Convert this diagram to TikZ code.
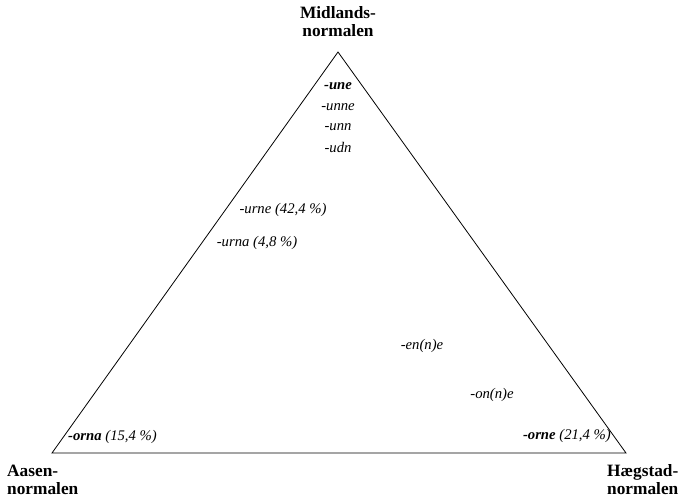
\documentclass[tikz,border=0pt]{standalone}
\usepackage{fontspec}
\setmainfont{Liberation Serif}
\begin{document}
\begin{tikzpicture}[x=1pt,y=-1pt,
  lbl/.style={font=\fontsize{17.3}{20}\selectfont\bfseries, inner sep=0pt, align=left},
  suf/.style={font=\fontsize{14.7}{17}\selectfont\itshape, inner sep=0pt},
  edge/.style={line width=0.8pt}]
\useasboundingbox (0,0) rectangle (680,498);
\coordinate (T) at (338,52);
\coordinate (L) at (52,453);
\coordinate (R) at (626,453);
\draw[edge] (L) -- (T) -- (R) -- cycle;
\node[lbl, align=center] (mid) at (338,22) {Midlands-\\[-2pt]normalen};
\node[lbl, anchor=west] (aas) at (7,480) {Aasen-\\[-2pt]normalen};
\node[lbl, anchor=west] (hae) at (607,480) {Hægstad-\\[-2pt]normalen};
\node[suf] (une) at (338,86) {\textbf{-une}};
\node[suf] (unne) at (338,107) {-unne};
\node[suf] (unn) at (338,127) {-unn};
\node[suf] (udn) at (338,147) {-udn};
\node[suf] (urne) at (283,210) {-urne (42,4 \%)};
\node[suf] (urna) at (257,243) {-urna (4,8 \%)};
\node[suf] (enne) at (422,346) {-en(n)e};
\node[suf] (onne) at (492,395) {-on(n)e};
\node[suf, anchor=west] (orna) at (68,437) {\textbf{-orna} (15,4 \%)};
\node[suf, anchor=east] (orne) at (611,436) {\textbf{-orne} (21,4 \%)};
\end{tikzpicture}
\end{document}
